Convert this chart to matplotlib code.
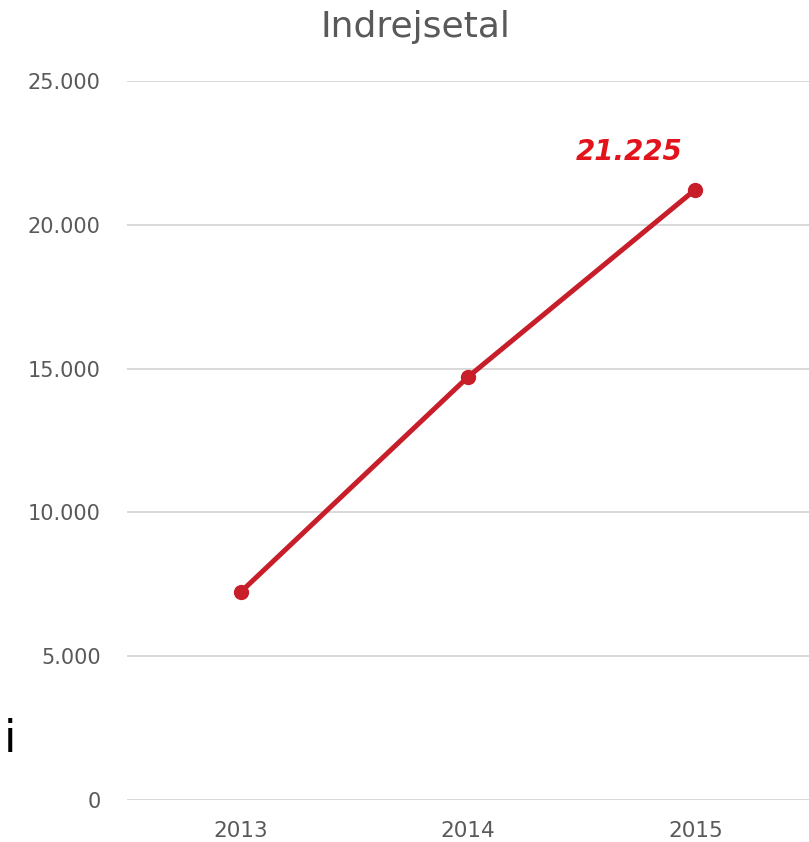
import matplotlib
matplotlib.use("Agg")
import matplotlib.pyplot as plt

# data
years = ["2013", "2014", "2015"]
values = [7230, 14710, 21225]
yticks = [0, 5000, 10000, 15000, 20000, 25000]
ytick_labels = ["0", "5.000", "10.000", "15.000", "20.000", "25.000"]
last_label = "21.225"

plt.rcParams['font.family'] = ['DejaVu Sans']

fig = plt.figure(figsize=(8.09, 8.42), dpi=100)
ax = fig.add_axes([0.157, 0.0499, 0.843, 0.8539])

x = list(range(len(years)))
ax.plot(x, values, color='#C81E2A', linewidth=3.6, marker='o', markersize=10,
        solid_capstyle='round', zorder=3)

ax.set_xlim(-0.5, len(years) - 0.5)
ax.set_ylim(0, 25000)
ax.set_xticks(x)
ax.set_xticklabels(years)
ax.set_yticks(yticks)
ax.set_yticklabels(ytick_labels)
ax.tick_params(axis='y', length=0, pad=19, labelsize=15, labelcolor='#595959')
ax.tick_params(axis='x', length=0, pad=15, labelsize=15.5, labelcolor='#595959')

ax.grid(axis='y', color='#D9D9D9', linewidth=1.4)
ax.set_axisbelow(True)
for s in ax.spines.values():
    s.set_visible(False)

# label on last point
ax.annotate(last_label, (x[-1], values[-1]), xytext=(-48, 27), textcoords='offset points',
            ha='center', va='center', color='#E3131B', fontsize=20,
            fontweight='bold', fontstyle='italic')

fig.text(415 / 809, 1 - 27 / 842, "Indrejsetal", ha='center', va='center',
         fontsize=26, color='#595959')
fig.text(4 / 809, 1 - 740 / 842, "i", ha='left', va='center', fontsize=32, color='black')

fig.savefig("out.png", dpi=100)
